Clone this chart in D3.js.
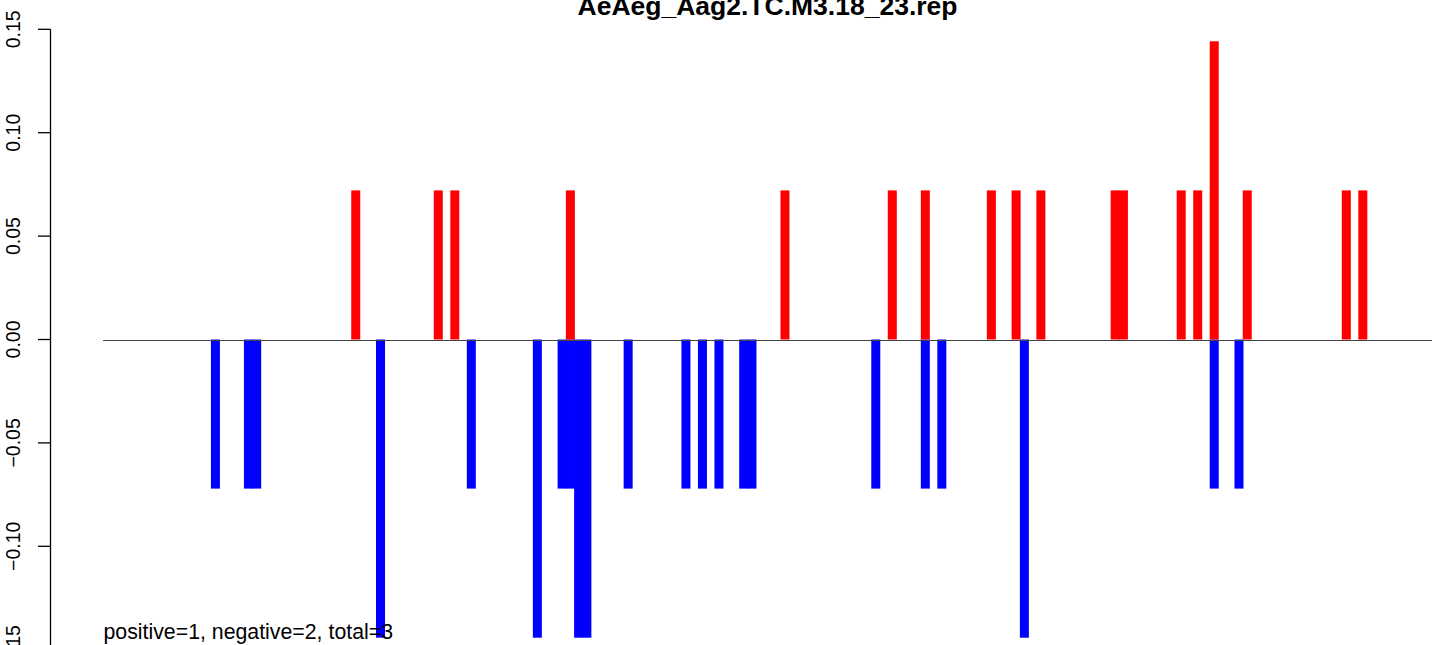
<!DOCTYPE html>
<html>
<head>
<meta charset="utf-8">
<script src="https://cdn.jsdelivr.net/npm/d3@7"></script>
<style>
  html, body { margin: 0; padding: 0; background: #fff; }
  svg { display: block; }
  text { font-family: "Liberation Sans", Arial, Helvetica, sans-serif; }
</style>
</head>
<body>
<svg id="chart" width="1441" height="645"></svg>
<script>
// ---- data ----
const title = "AeAeg_Aag2.TC.M3.18_23.rep";
const note = "positive=1, negative=2, total=3";
const xDomain = [0, 161];
const yTicks = [0.15, 0.10, 0.05, 0.00, -0.05, -0.10, -0.15];
const yTickLabels = ["0.15", "0.10", "0.05", "0.00", "\u22120.05", "\u22120.10", "\u22120.15"];

// positive (red) bars: position, value
const posPositions = [30, 40, 42, 56, 82, 95, 99, 107, 110, 113, 122, 123, 130, 132, 134, 138, 150, 152];
const posValues    = [0.0721, 0.0721, 0.0721, 0.0721, 0.0721, 0.0721, 0.0721, 0.0721, 0.0721, 0.0721, 0.0721, 0.0721, 0.0721, 0.0721, 0.1442, 0.0721, 0.0721, 0.0721];

// negative (blue) bars: position, value
const negPositions = [13, 17, 18, 33, 44, 52, 55, 56, 57, 58, 63, 70, 72, 74, 77, 78, 93, 99, 101, 111, 134, 137];
const negValues    = [-0.0721, -0.0721, -0.0721, -0.1442, -0.0721, -0.1442, -0.0721, -0.0721, -0.1442, -0.1442, -0.0721, -0.0721, -0.0721, -0.0721, -0.0721, -0.0721, -0.0721, -0.0721, -0.0721, -0.1442, -0.0721, -0.0721];

// ---- drawing ----
const svg = d3.select("#chart");
const x = d3.scaleLinear().domain(xDomain).range([103, 1432]);
const y = d3.scaleLinear().domain([-0.15, 0.15]).range([649.7, 29.3]);

const barW = x(1) - x(0) + 0.75;

function drawBars(positions, values, color) {
  const data = positions.map((p, i) => ({p, v: values[i]}));
  svg.append("g").selectAll("rect").data(data).join("rect")
    .attr("x", d => x(d.p) + 0.6)
    .attr("width", barW)
    .attr("y", d => Math.min(y(d.v), y(0)))
    .attr("height", d => Math.abs(y(d.v) - y(0)))
    .attr("fill", color);
}
drawBars(negPositions, negValues, "#0000FF");
drawBars(posPositions, posValues, "#FF0000");

// zero line
svg.append("line")
  .attr("x1", x(xDomain[0])).attr("x2", x(xDomain[1]))
  .attr("y1", Math.round(y(0)) + 0.5).attr("y2", Math.round(y(0)) + 0.5)
  .attr("stroke", "#444").attr("stroke-width", 1);

// y axis
const axisX = 50.5;
const ax = svg.append("g");
ax.append("line")
  .attr("x1", axisX).attr("x2", axisX)
  .attr("y1", y(0.15)).attr("y2", 660)
  .attr("stroke", "#000").attr("stroke-width", 1.3);
ax.selectAll("line.tick").data(yTicks).join("line")
  .attr("class", "tick")
  .attr("x1", 38).attr("x2", axisX)
  .attr("y1", d => y(d)).attr("y2", d => y(d))
  .attr("stroke", "#000").attr("stroke-width", 1.3);
ax.selectAll("text").data(yTicks).join("text")
  .attr("transform", d => `translate(20,${y(d)}) rotate(-90)`)
  .attr("text-anchor", "middle")
  .attr("font-size", "19.5px")
  .attr("fill", "#000")
  .text((d, i) => yTickLabels[i]);

// title
svg.append("text")
  .attr("x", (x(xDomain[0]) + x(xDomain[1])) / 2)
  .attr("y", 14.5)
  .attr("text-anchor", "middle")
  .attr("font-size", "26.5px")
  .attr("font-weight", "bold")
  .attr("fill", "#000")
  .text(title);

// note
svg.append("text")
  .attr("x", 103.5)
  .attr("y", 639)
  .attr("font-size", "21.3px")
  .attr("fill", "#000")
  .text(note);
</script>
</body>
</html>
